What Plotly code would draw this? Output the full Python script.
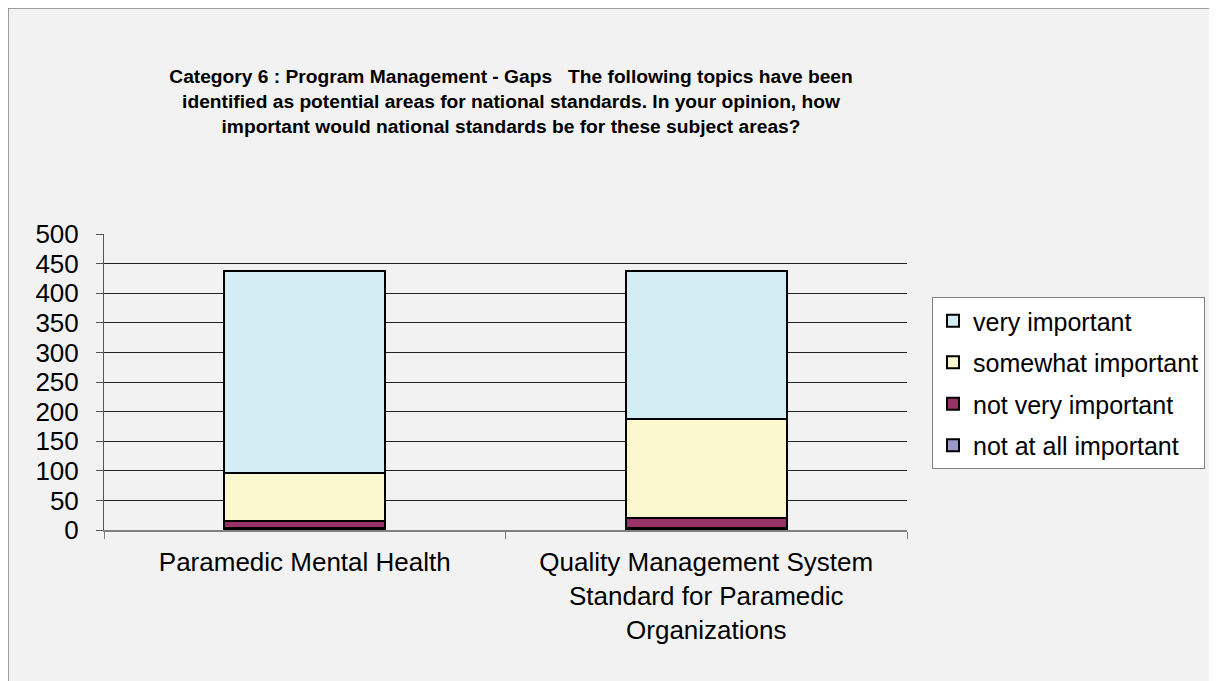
import plotly.graph_objects as go

categories = ["Paramedic Mental Health",
              "Quality Management System<br>Standard for Paramedic<br>Organizations"]
series_names = ["not at all important", "not very important", "somewhat important", "very important"]
not_at_all = [4, 4]
not_very = [12, 17]
somewhat = [81, 166]
very = [340, 250]
colors = ["#9999cc", "#993366", "#fbf8d0", "#d4ecf3"]
legend_ranks = [4, 3, 2, 1]
y_ticks = [0, 50, 100, 150, 200, 250, 300, 350, 400, 450, 500]

title_text = ("Category 6 : Program Management - Gaps &nbsp; The following topics have been<br>"
              "identified as potential areas for national standards. In your opinion, how<br>"
              "important would national standards be for these subject areas?")

# figure coordinates (page is offset by the 8px body margin)
L, R, T, B = 96, 899, 226, 522
W, H = 1217, 681
pw, ph = R - L, B - T

fig = go.Figure()
for name, vals, col, rk in zip(series_names, [not_at_all, not_very, somewhat, very], colors, legend_ranks):
    fig.add_trace(go.Bar(
        x=categories, y=vals, name=name, legendgroup=name, legendrank=rk,
        marker=dict(color=col, line=dict(color="#000000", width=2)),
        width=0.4,
    ))

fig.update_layout(
    barmode="stack",
    width=W, height=H,
    paper_bgcolor="#f2f2f2", plot_bgcolor="#f2f2f2",
    margin=dict(l=L, r=W - R, t=T, b=H - B, autoexpand=False),
    font=dict(family="Liberation Sans, Arial, sans-serif", color="#000000", size=26),
    title=dict(text="<b>" + title_text + "</b>", x=503/W, xanchor="center",
               y=1 - 75/H, yanchor="top",
               font=dict(size=19.2, family="Liberation Sans, Arial, sans-serif")),
    showlegend=True,
    legend=dict(x=(924 - L)/pw, xanchor="left", y=(B - 289)/ph, yanchor="top",
                traceorder="grouped", tracegroupgap=6,
                bgcolor="#ffffff", bordercolor="#808080", borderwidth=1,
                font=dict(size=25), itemwidth=30),
)
fig.update_yaxes(range=[0, 500], tickvals=y_ticks, showgrid=True, gridcolor="#222222", gridwidth=1,
                 showline=True, linecolor="#555555", linewidth=1, ticks="outside", ticklen=7,
                 tickcolor="#555555", zeroline=False, tickfont=dict(size=26),
                 ticklabelstandoff=12)
fig.update_xaxes(showline=True, linecolor="#808080", linewidth=2, ticks="outside", ticklen=7,
                 tickcolor="#808080", tickson="boundaries", tickfont=dict(size=26),
                 ticklabelstandoff=8)

fig.add_shape(type="rect", xref="paper", yref="paper",
              x0=-L/pw, x1=(W + 20 - L)/pw, y0=-(H + 20 - B)/ph, y1=B/ph,
              line=dict(color="#808080", width=1.5), fillcolor="rgba(0,0,0,0)", layer="below")

fig.write_html("out.html")
